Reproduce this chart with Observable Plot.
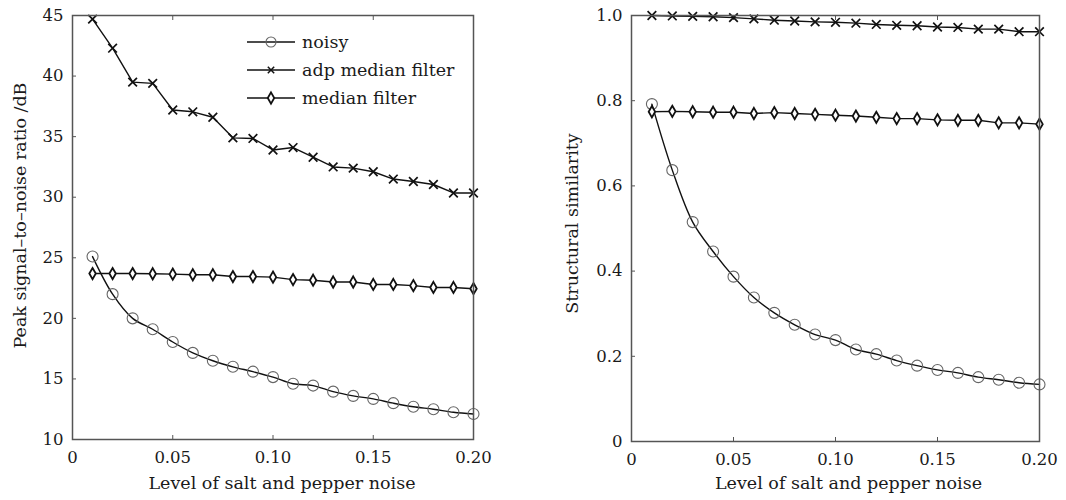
<!DOCTYPE html>
<html><head><meta charset="utf-8">
<script src="https://cdn.jsdelivr.net/npm/d3@7"></script>
<script src="https://cdn.jsdelivr.net/npm/@observablehq/plot@0.6"></script>
<style>
body{margin:0;background:#fff;}
#wrap{position:relative;width:1066px;height:500px;display:flex;}
#legend{position:absolute;left:0;top:0;}
</style></head><body><div id="wrap"></div>
<script>
const noiseLevels = [0.01,0.02,0.03,0.04,0.05,0.06,0.07,0.08,0.09,0.10,0.11,0.12,0.13,0.14,0.15,0.16,0.17,0.18,0.19,0.20];
const psnrNoisy  = [25.1,22.0,20.0,19.1,18.05,17.15,16.5,16.0,15.6,15.15,14.6,14.45,13.95,13.6,13.35,13.0,12.7,12.5,12.25,12.1];
const psnrAdp    = [44.7,42.3,39.5,39.4,37.2,37.05,36.6,34.9,34.85,33.9,34.1,33.3,32.5,32.4,32.1,31.5,31.3,31.05,30.35,30.35];
const psnrMedian = [23.7,23.7,23.7,23.68,23.65,23.6,23.6,23.45,23.45,23.4,23.2,23.15,23.0,23.0,22.8,22.8,22.7,22.55,22.55,22.45];
const ssimNoisy  = [0.792,0.637,0.515,0.446,0.387,0.338,0.302,0.274,0.251,0.238,0.216,0.205,0.190,0.178,0.168,0.161,0.151,0.145,0.138,0.134];
const ssimAdp    = [1.0,0.999,0.998,0.997,0.995,0.992,0.989,0.987,0.985,0.984,0.982,0.979,0.977,0.976,0.973,0.972,0.968,0.968,0.962,0.962];
const ssimMedian = [0.774,0.775,0.774,0.773,0.773,0.770,0.772,0.770,0.768,0.766,0.764,0.761,0.758,0.758,0.755,0.754,0.754,0.748,0.748,0.745];

const xTicks = [0,0.05,0.10,0.15,0.20];
const xTickLabels = ["0","0.05","0.10","0.15","0.20"];
const psnrTicks = [10,15,20,25,30,35,40,45];
const psnrTickLabels = ["10","15","20","25","30","35","40","45"];
const ssimTicks = [0,0.2,0.4,0.6,0.8,1.0];
const ssimTickLabels = ["0","0.2","0.4","0.6","0.8","1.0"];
const seriesNames = ["noisy","adp median filter","median filter"];
const xLabel = "Level of salt and pepper noise";
const psnrLabel = "Peak signal–to–noise ratio /dB";
const ssimLabel = "Structural similarity";

const FONT = "DejaVu Serif";
const rows = vals => noiseLevels.map((x,i)=>({x, y: vals[i]}));

function panel(o){
  const noisy = rows(o.noisy), adp = rows(o.adp), med = rows(o.med);
  return Plot.plot({
    width: o.width, height: 500,
    marginLeft: o.ml, marginRight: o.mr, marginTop: 15, marginBottom: o.mb,
    style: {fontFamily: FONT, fontSize: "16px", color: "#1a1a1a", background: "#fff"},
    x: {domain: [0, 0.2]},
    y: {domain: o.yDomain},
    marks: [
      Plot.axisX({ticks: xTicks, tickFormat: d => xTickLabels[xTicks.findIndex(t=>Math.abs(t-d)<1e-9)], tickSize: -4, tickPadding: 16, label: null, stroke: "#555", fontSize: 16.5}),
      Plot.axisX({anchor: "top", ticks: xTicks, tickFormat: () => "", tickSize: -4, label: null, stroke: "#555"}),
      Plot.axisY({ticks: o.yTicks, tickFormat: d => o.yLabels[o.yTicks.findIndex(t=>Math.abs(t-d)<1e-9)], tickSize: -4, tickPadding: 13, label: null, stroke: "#555", fontSize: 16.5}),
      Plot.lineY(noisy, {x: "x", y: "y", curve: "catmull-rom", stroke: "#111", strokeWidth: 1.4}),
      Plot.lineY(adp, {x: "x", y: "y", stroke: "#111", strokeWidth: 1.4}),
      Plot.lineY(med, {x: "x", y: "y", stroke: "#111", strokeWidth: 1.4}),
      Plot.dot(noisy, {x: "x", y: "y", r: 5.5, stroke: "#666", strokeWidth: 1.1, fill: "none"}),
      Plot.dot(adp, {x: "x", y: "y", symbol: "times", r: 4, stroke: "#111", strokeWidth: 1.7}),
      Plot.dot(med, {x: "x", y: "y", symbol: "diamond", r: 3.4, stroke: "#111", strokeWidth: 1.8, fill: "#fff"}),
      Plot.frame({stroke: "#555", strokeWidth: 1.5}),
      Plot.text([xLabel], {frameAnchor: "bottom", dy: o.xdy, dx: o.xdx, fontSize: 17.5, fill: "#1a1a1a"}),
      Plot.text([o.ylabel], {frameAnchor: "left", textAnchor: "middle", rotate: -90, dx: o.ydx, dy: o.ydy, fontSize: 17.5, fill: "#1a1a1a"})
    ]
  });
}

const wrap = document.getElementById("wrap");
wrap.append(panel({width: 540, ml: 72, mr: 67, mb: 61, yDomain: [10,45], yTicks: psnrTicks, yLabels: psnrTickLabels,
  noisy: psnrNoisy, adp: psnrAdp, med: psnrMedian, ylabel: psnrLabel, xdy: 49, xdx: 9, ydx: -52, ydy: -12}));
wrap.append(panel({width: 526, ml: 91, mr: 27, mb: 59, yDomain: [0,1], yTicks: ssimTicks, yLabels: ssimTickLabels,
  noisy: ssimNoisy, adp: ssimAdp, med: ssimMedian, ylabel: ssimLabel, xdy: 47, xdx: 13, ydx: -59, ydy: -5}));

// legend (HTML overlay)
const leg = d3.select(wrap).append("svg").attr("id","legend").attr("width", 500).attr("height", 120)
  .style("font-family", FONT).style("font-size", "17.5px");
const legSymbols = [
  {sym: d3.symbolCircle, size: Math.PI*5*5, stroke: "#666", sw: 1.1, fill: "none"},
  {sym: d3.symbolTimes, size: Math.PI*3*3, stroke: "#111", sw: 1.5, fill: "none"},
  {sym: d3.symbolDiamond, size: Math.PI*3.4*3.4, stroke: "#111", sw: 1.8, fill: "#fff"}
];
seriesNames.forEach((name, i) => {
  const cy = 42 + i*28;
  leg.append("line").attr("x1", 247).attr("x2", 295).attr("y1", cy).attr("y2", cy).attr("stroke", "#111").attr("stroke-width", 1.4);
  const s = legSymbols[i];
  leg.append("path").attr("d", d3.symbol(s.sym, s.size)()).attr("transform", `translate(271,${cy})`)
    .attr("stroke", s.stroke).attr("stroke-width", s.sw).attr("fill", s.fill);
  leg.append("text").attr("x", 302).attr("y", cy).attr("dy", "0.32em").attr("fill", "#1a1a1a").text(name);
});
</script></body></html>
